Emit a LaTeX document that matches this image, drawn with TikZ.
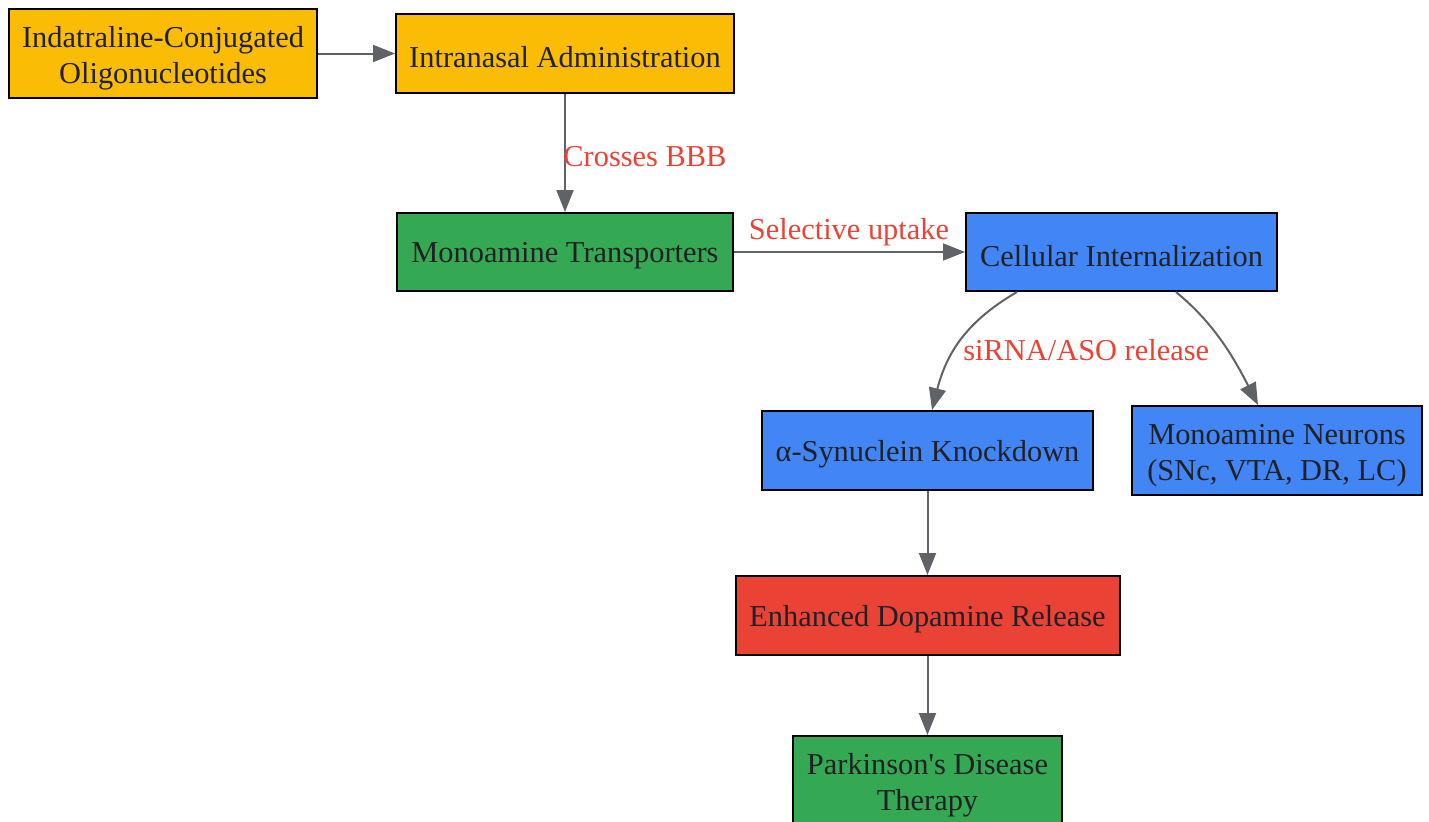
\documentclass[tikz,border=0pt]{standalone}
\usepackage{fontspec}
\setmainfont{Liberation Serif}
\usetikzlibrary{arrows.meta,calc}
\definecolor{cyellow}{HTML}{FBBC05}
\definecolor{cgreen}{HTML}{34A853}
\definecolor{cblue}{HTML}{4285F4}
\definecolor{cred}{HTML}{EA4335}
\definecolor{ctext}{HTML}{202124}
\definecolor{cedge}{HTML}{5F6368}
\tikzset{
  box/.style={draw=black, line width=1pt, rectangle, inner sep=0pt},
  txt/.style={align=center, text=ctext, font=\fontsize{15.2}{18}\selectfont, inner sep=0pt, yshift=#1},
  txt/.default=-1.8pt,
  conn/.style={draw=cedge, line width=1pt, -{Triangle[length=11pt,width=8.5pt]}},
  elabel/.style={text=cred, font=\fontsize{15.2}{18}\selectfont, inner sep=0pt}
}
\begin{document}
\begin{tikzpicture}[x=0.5pt,y=-0.5pt]
\useasboundingbox (0,0) rectangle (1429,821);
\node[box, fill=cyellow, minimum width=154pt, minimum height=44.5pt,
  label={[txt=-2.6pt, name=tind]center:{Indatraline-Conjugated\\Oligonucleotides}}] (ind) at (163,53.5) {};
\node[box, fill=cyellow, minimum width=169pt, minimum height=39.5pt,
  label={[txt, name=tint]center:{Intranasal Administration}}] (int) at (565,53.5) {};
\node[box, fill=cgreen, minimum width=168pt, minimum height=39pt,
  label={[txt, name=tmat]center:{Monoamine Transporters}}] (mat) at (565,252) {};
\node[box, fill=cblue, minimum width=155.5pt, minimum height=39pt,
  label={[txt, name=tcel]center:{Cellular Internalization}}] (cel) at (1121.5,252) {};
\node[box, fill=cblue, minimum width=165.5pt, minimum height=39.5pt,
  label={[txt, name=tsyn]center:{α-Synuclein Knockdown}}] (syn) at (927.5,450.5) {};
\node[box, fill=cblue, minimum width=145pt, minimum height=44.5pt,
  label={[txt=-2.6pt, name=tneu]center:{Monoamine Neurons\\(SNc, VTA, DR, LC)}}] (neu) at (1277,450.5) {};
\node[box, fill=cred, minimum width=192pt, minimum height=39.5pt,
  label={[txt, name=tdop]center:{Enhanced Dopamine Release}}] (dop) at (927.5,615.5) {};
\node[box, fill=cgreen, minimum width=134.5pt, minimum height=44.5pt,
  label={[txt=-2.6pt, name=tpar]center:{Parkinson\textquotesingle s Disease\\Therapy}}] (par) at (927.5,780.5) {};

\draw[conn] (ind.east) -- (int.west);
\draw[conn] (int.south) -- (mat.north);
\node[elabel, anchor=west] (lbbb) at (563,157) {Crosses BBB};
\draw[conn] (mat.east) -- (cel.west);
\node[elabel] (lsel) at (849,232) {Selective uptake};
\draw[conn] ($(cel.south)+(-104.5,0)$) .. controls (965,322) and (946,355) .. ($(syn.north)+(4.5,0)$);
\node[elabel, anchor=west] (lsi) at (963,350) {siRNA/ASO release};
\draw[conn] ($(cel.south)+(54.5,0)$) .. controls (1210,320) and (1230,350) .. ($(neu.north)+(-19,0)$);
\draw[conn] (syn.south) -- (dop.north);
\draw[conn] (dop.south) -- (par.north);
\end{tikzpicture}
\end{document}
